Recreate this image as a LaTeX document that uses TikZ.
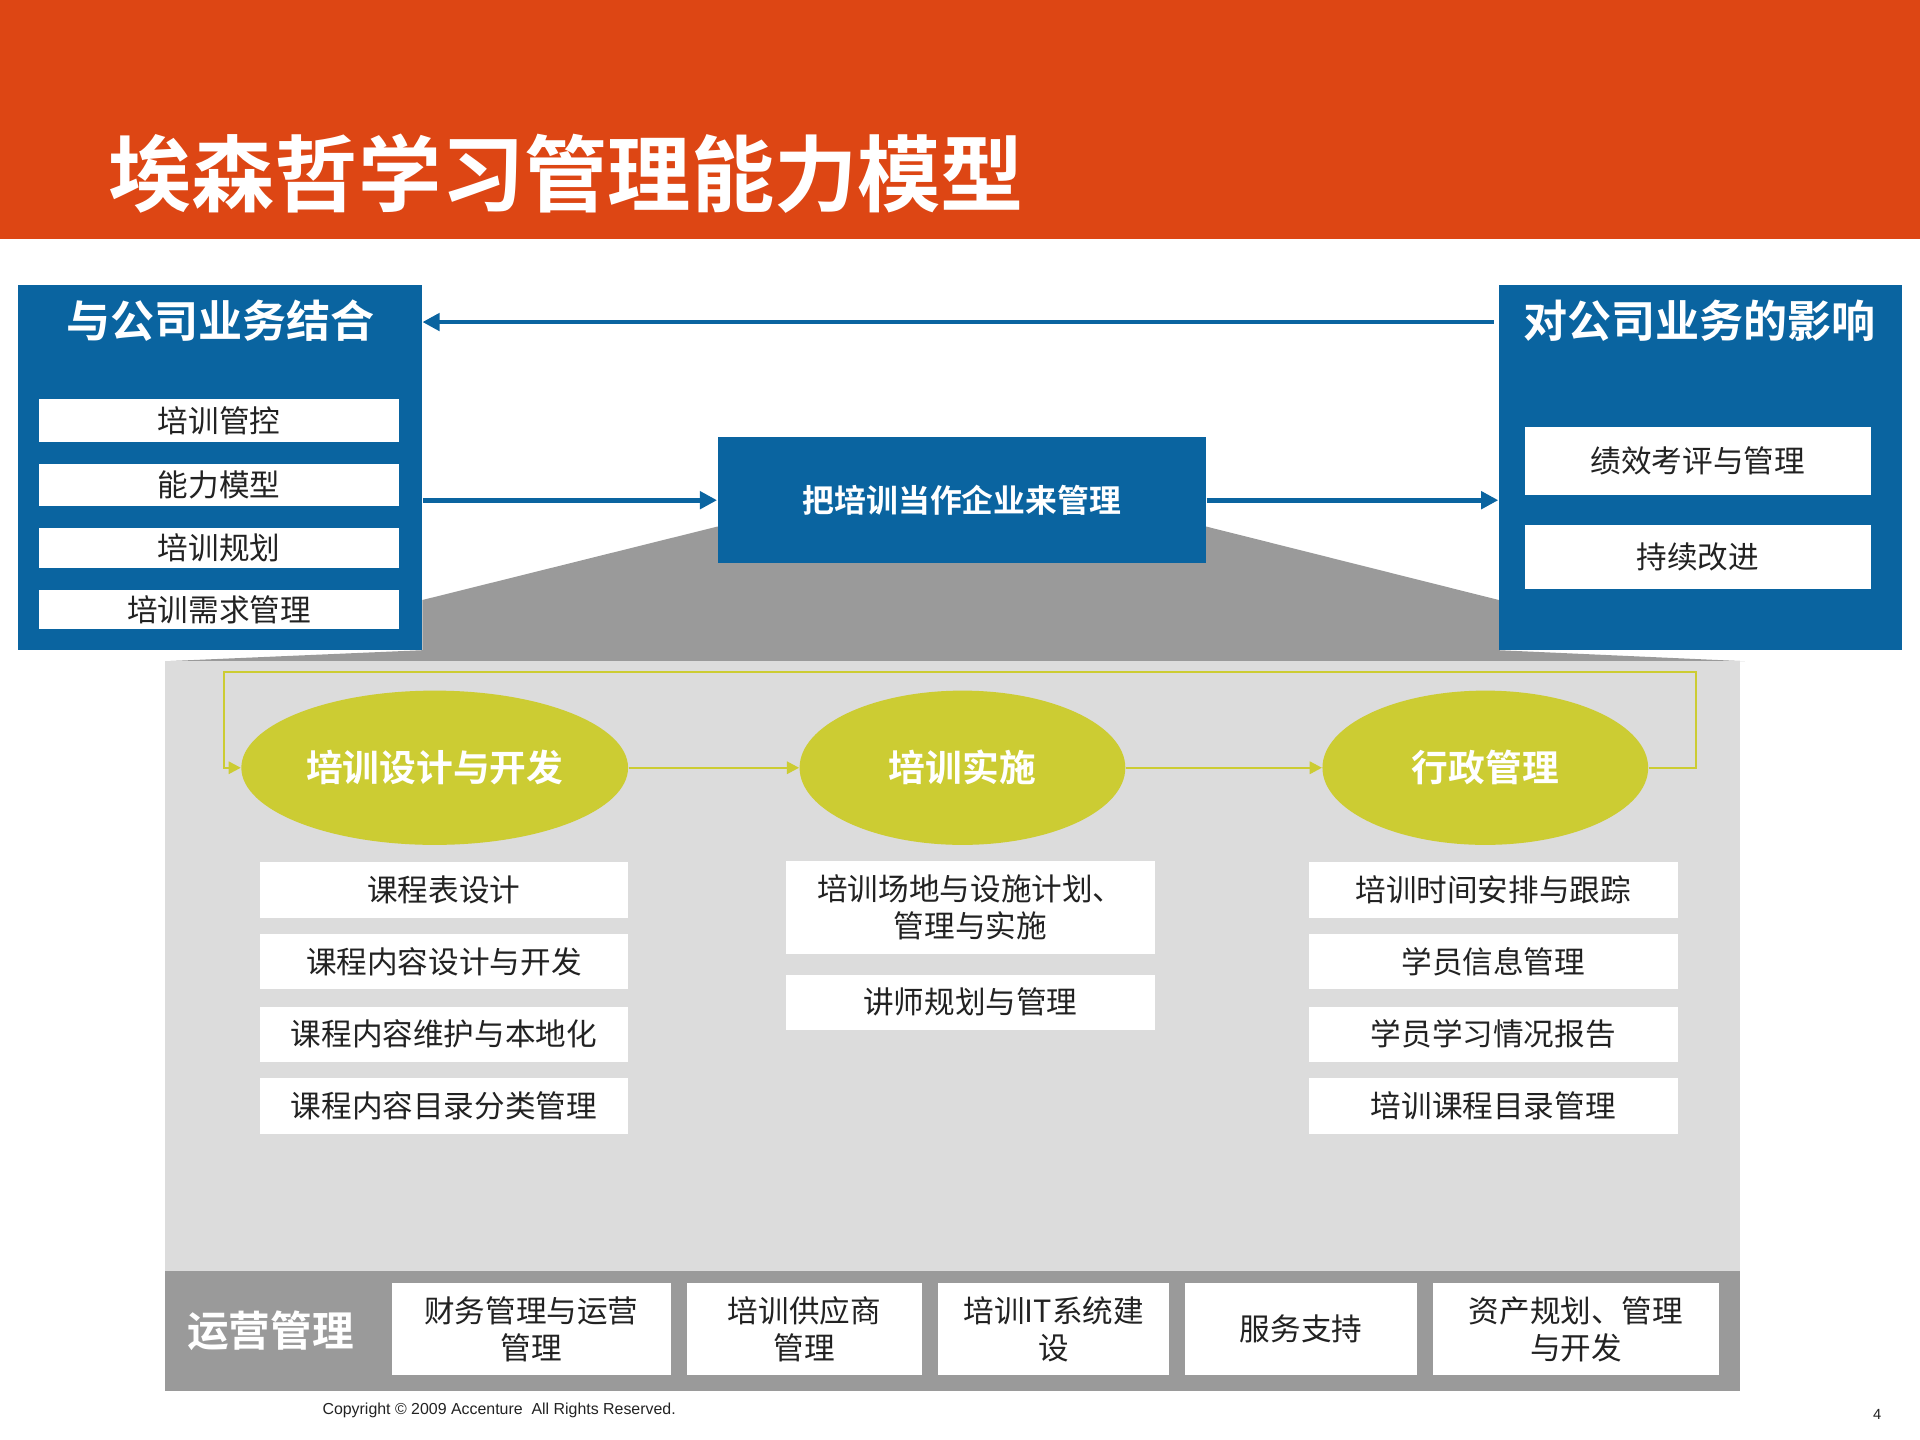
\documentclass[tikz,border=0pt]{standalone}
\usepackage{fontspec}
\setmainfont{Noto Sans CJK SC}[BoldFont={Noto Sans CJK SC Bold}]
\newfontfamily\lat{Liberation Sans}
\usetikzlibrary{arrows.meta}
\definecolor{hdr}{HTML}{DD4614}
\definecolor{blu}{HTML}{0A64A0}
\definecolor{ylw}{HTML}{CCCC33}
\definecolor{lg}{HTML}{DCDCDC}
\definecolor{dg}{HTML}{9A9A9A}
\definecolor{tx}{HTML}{222222}
\tikzset{
 wbox/.style={fill=white,draw=none,text=tx,font=\fontsize{12.5}{15}\selectfont,align=center,inner sep=0pt},
 ell/.style={ellipse,fill=ylw,minimum width=133pt,minimum height=63pt,text=white,font=\bfseries\fontsize{15}{18}\selectfont},
 barr/.style={draw=blu,line width=2pt,-{Triangle[length=7pt,width=7pt]}},
 yarr/.style={draw=ylw,line width=1pt,-{Triangle[length=5pt,width=5pt]}}
}
\usetikzlibrary{shapes.geometric}
\begin{document}
\begin{tikzpicture}[x=0.5pt,y=-0.5pt]
\useasboundingbox (0,0) rectangle (1568,1176);
\fill[white] (0,0) rectangle (1568,1176);
\fill[hdr] (0,0) rectangle (1568,195);
\node[anchor=base west,text=white,font=\bfseries\fontsize{34}{40}\selectfont,inner sep=0] (title) at (88,168) {埃森哲学习管理能力模型};
% gray trapezoid
\fill[dg] (586,430)--(345,490)--(345,531)--(135,540)--(1425,540)--(1224,531)--(1224,490)--(985,430)--cycle;
\fill[lg] (135,540) rectangle (1421,1038);
\fill[dg] (135,1038) rectangle (1421,1136);
% blue boxes
\node[fill=blu,minimum width=165pt,minimum height=149pt,inner sep=0] (L) at (180,382) {};
\node[text=white,font=\bfseries\fontsize{18}{22}\selectfont] (Lt) at (180,262) {与公司业务结合};
\node[fill=blu,minimum width=164.5pt,minimum height=149pt,inner sep=0] (R) at (1388.5,382) {};
\node[text=white,font=\bfseries\fontsize{18}{22}\selectfont] (Rt) at (1388,262) {对公司业务的影响};
\node[fill=blu,minimum width=199.5pt,minimum height=51.5pt,inner sep=0,text=white,font=\bfseries\fontsize{13}{16}\selectfont] (C) at (785.5,408.5) {把培训当作企业来管理};
\foreach \n/\y/\h/\t in {l1/343.5/35/培训管控,l2/396/34/能力模型,l3/447.5/33/培训规划,l4/498/32/培训需求管理}
  \node[wbox,minimum width=147pt,minimum height=\h*0.5pt] (\n) at (179,\y) {\t};
\foreach \n/\y/\h/\t in {r1/376.5/55/绩效考评与管理,r2/455/52/持续改进}
  \node[wbox,minimum width=141.5pt,minimum height=\h*0.5pt] (\n) at (1386.5,\y) {\t};
\coordinate (ra) at (1220,263); \coordinate (la) at (345,263);
\draw[barr] (ra) -- (la);
\draw[barr] (L.east |- C.west) -- (C.west);
\draw[barr] (C.east) -- (C.east -| R.west);
% ellipses
\node[ell] (e1) at (355,627) {培训设计与开发};
\node[ell] (e2) at (786,627) {培训实施};
\node[ell] (e3) at (1213,627) {行政管理};
\draw[yarr] (e1) -- (e2);
\draw[yarr] (e2) -- (e3);
\draw[yarr] (e3.east) -- (1385,627) -- (1385,549) -- (183,549) -- (183,627) -- (e1.west);
% columns
\foreach \n/\y/\h/\t in {a1/727/46/课程表设计,a2/785.5/45/课程内容设计与开发,a3/844.5/45/课程内容维护与本地化,a4/903/46/课程内容目录分类管理}
  \node[wbox,minimum width=150.5pt,minimum height=\h*0.5pt] (\n) at (362.5,\y) {\t};
\node[wbox,minimum width=150.5pt,minimum height=38pt] (b1) at (792.5,741) {培训场地与设施计划、\\管理与实施};
\node[wbox,minimum width=150.5pt,minimum height=22.5pt] (b2) at (792.5,818.5) {讲师规划与管理};
\foreach \n/\y/\h/\t in {c1/727/46/培训时间安排与跟踪,c2/785.5/45/学员信息管理,c3/844.5/45/学员学习情况报告,c4/903/46/培训课程目录管理}
  \node[wbox,minimum width=150.5pt,minimum height=\h*0.5pt] (\n) at (1219.5,\y) {\t};
% bottom
\node[text=white,font=\bfseries\fontsize{17}{20}\selectfont] (op) at (221,1087) {运营管理};
\foreach \n/\x/\w/\t in {d1/434/228/财务管理与运营\\管理,d2/657/192/培训供应商\\管理,d3/860.5/189/培训IT系统建\\设,d4/1062.5/189/服务支持,d5/1287/234/资产规划、管理\\与开发}
  \node[wbox,minimum width=\w*0.5pt,minimum height=37.5pt] (\n) at (\x,1085.5) {\t};
\node[anchor=west,font=\lat\fontsize{6.5}{8}\selectfont,text=tx,inner sep=0] (cp) at (263,1152) {Copyright © 2009 Accenture\ \ All Rights Reserved.};
\node[font=\lat\fontsize{6}{8}\selectfont,text=tx] (pg) at (1533,1155) {4};
\end{tikzpicture}
\end{document}
